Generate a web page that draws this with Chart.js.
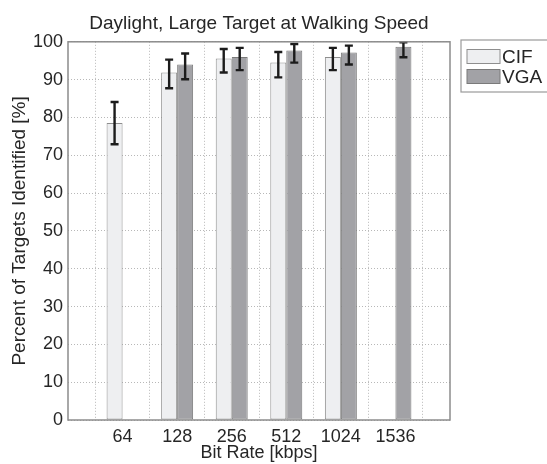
<!DOCTYPE html>
<html>
<head>
<meta charset="utf-8">
<script src="https://cdn.jsdelivr.net/npm/chart.js@4"></script>
<style>
  html, body { margin: 0; padding: 0; background: #fff; }
  #wrap { position: relative; width: 547px; height: 464px; }
</style>
</head>
<body>
<div id="wrap"><canvas id="chart" width="547" height="464"></canvas></div>
<script>
// data
const categories = ['64', '128', '256', '512', '1024', '1536'];
const cifValues = [78.5, 91.9, 95.6, 94.5, 96.0, null];
const cifLow    = [72.9, 87.7, 91.9, 90.6, 92.5, null];
const cifHigh   = [84.1, 95.3, 98.1, 97.3, 98.4, null];
const vgaValues = [null, 94.0, 96.0, 97.7, 97.2, 98.7];
const vgaLow    = [null, 90.1, 92.5, 94.5, 94.0, 95.9];
const vgaHigh   = [null, 96.9, 98.4, 99.4, 99.0, 99.9];
const yTicks = [0, 10, 20, 30, 40, 50, 60, 70, 80, 90, 100];

// empty slot at both ends so the axis runs from 0 to 7 like the original
const pad = arr => [null, ...arr, null];
const labels = ['', ...categories, ''];

const FONT = '"Liberation Sans", Arial, sans-serif';
const TXT = '#262626';

// error bars
const errorBars = {
  id: 'errorBars',
  afterDatasetsDraw(chart) {
    const ctx = chart.ctx;
    const y = chart.scales.y;
    const ranges = [[pad(cifLow), pad(cifHigh)], [pad(vgaLow), pad(vgaHigh)]];
    ctx.save();
    ctx.strokeStyle = '#1c1c1c';
    ctx.lineWidth = 2.4;
    chart.data.datasets.forEach((ds, di) => {
      const meta = chart.getDatasetMeta(di);
      meta.data.forEach((bar, i) => {
        const lo = ranges[di][0][i], hi = ranges[di][1][i];
        if (lo == null || hi == null) return;
        const x = bar.x, y1 = y.getPixelForValue(lo), y2 = y.getPixelForValue(hi);
        ctx.beginPath();
        ctx.moveTo(x, y1); ctx.lineTo(x, y2);
        ctx.moveTo(x - 4, y1); ctx.lineTo(x + 4, y1);
        ctx.moveTo(x - 4, y2); ctx.lineTo(x + 4, y2);
        ctx.stroke();
      });
    });
    ctx.restore();
  }
};

// box round the plot + legend on the right
const frame = {
  id: 'frame',
  afterDraw(chart) {
    const ctx = chart.ctx;
    const a = chart.chartArea;
    ctx.save();
    ctx.strokeStyle = '#8c8c8c';
    ctx.lineWidth = 1.5;
    ctx.strokeRect(a.left, a.top, a.right - a.left, a.bottom - a.top);

    // legend
    const lx = 461, ly = 40, lw = 90, lh = 52;
    ctx.strokeStyle = '#9a9a9a';
    ctx.lineWidth = 1.2;
    ctx.strokeRect(lx, ly, lw, lh);
    chart.data.datasets.forEach((ds, i) => {
      const sy = 49.5 + i * 20;
      ctx.fillStyle = ds.backgroundColor;
      ctx.fillRect(467, sy, 33, 14);
      ctx.strokeStyle = ds.borderColor;
      ctx.lineWidth = 1;
      ctx.strokeRect(467, sy, 33, 14);
      ctx.fillStyle = TXT;
      ctx.font = '19px ' + FONT;
      ctx.textBaseline = 'middle';
      ctx.textAlign = 'left';
      ctx.fillText(ds.label, 502, sy + 8);
    });
    ctx.restore();
  }
};

new Chart(document.getElementById('chart'), {
  type: 'bar',
  data: {
    labels: labels,
    datasets: [
      { label: 'CIF', data: pad(cifValues), backgroundColor: '#eeeff1', borderColor: '#8e8e8e', borderWidth: 1, borderSkipped: false },
      { label: 'VGA', data: pad(vgaValues), backgroundColor: '#a2a2a6', borderColor: '#7a7a7a', borderWidth: 1, borderSkipped: false }
    ]
  },
  plugins: [errorBars, frame],
  options: {
    responsive: false,
    animation: false,
    layout: { padding: { left: 0, right: 97, top: 0, bottom: 0 } },
    datasets: { bar: { barPercentage: 1, categoryPercentage: 0.586 } },
    plugins: {
      legend: { display: false },
      tooltip: { enabled: false },
      title: {
        display: true,
        fullSize: false,
        text: 'Daylight, Large Target at Walking Speed',
        color: TXT,
        font: { family: FONT, size: 19, weight: 'normal' },
        padding: { top: 12, bottom: 7 }
      }
    },
    scales: {
      x: {
        offset: false,
        grid: { color: '#b8b8b8', drawTicks: false },
        border: { display: false, dash: [1, 2] },
        ticks: { color: TXT, font: { family: FONT, size: 18 }, padding: 6, maxRotation: 0, autoSkip: false },
        title: { display: true, text: 'Bit Rate [kbps]', color: TXT, font: { family: FONT, size: 18 }, padding: { top: 0, bottom: 0 } },
        afterFit(scale) { scale.height = 44; }
      },
      y: {
        min: 0, max: 100,
        afterBuildTicks(scale) { scale.ticks = yTicks.map(v => ({ value: v })); },
        grid: { color: '#b8b8b8', drawTicks: false },
        border: { display: false, dash: [1, 2] },
        ticks: { color: TXT, font: { family: FONT, size: 18 }, padding: 5 },
        title: { display: true, text: 'Percent of Targets Identified [%]', color: TXT, font: { family: FONT, size: 19 }, padding: { top: 8, bottom: 0 } },
        afterFit(scale) { scale.width = 68; }
      }
    }
  }
});
</script>
</body>
</html>
